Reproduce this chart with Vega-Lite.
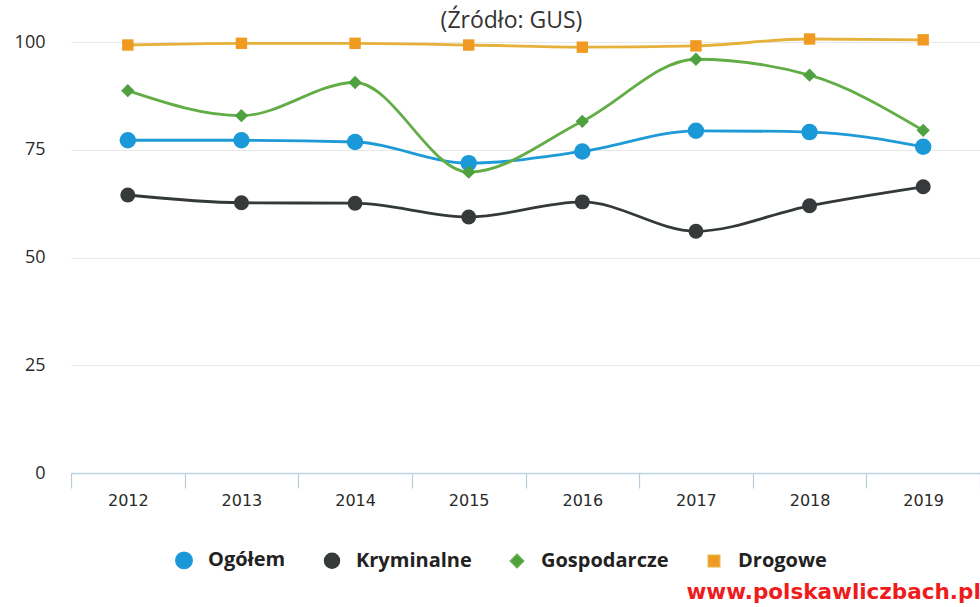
{
  "$schema": "https://vega.github.io/schema/vega-lite/v6.json",
  "width": 909,
  "height": 431,
  "padding": {"left": 14, "top": 10, "right": 0, "bottom": 0},
  "background": "white",
  "title": {
    "text": "(Źródło: GUS)",
    "font": "Open Sans",
    "fontSize": 23,
    "fontWeight": "normal",
    "color": "#333333",
    "anchor": "middle",
    "dx": -14,
    "offset": 0
  },
  "data": {
    "values": [
      {"year": "2012", "series": "Ogółem", "value": 77.2},
      {"year": "2013", "series": "Ogółem", "value": 77.2},
      {"year": "2014", "series": "Ogółem", "value": 76.8},
      {"year": "2015", "series": "Ogółem", "value": 71.9},
      {"year": "2016", "series": "Ogółem", "value": 74.6},
      {"year": "2017", "series": "Ogółem", "value": 79.4},
      {"year": "2018", "series": "Ogółem", "value": 79.1},
      {"year": "2019", "series": "Ogółem", "value": 75.7},
      {"year": "2012", "series": "Kryminalne", "value": 64.5},
      {"year": "2013", "series": "Kryminalne", "value": 62.7},
      {"year": "2014", "series": "Kryminalne", "value": 62.6},
      {"year": "2015", "series": "Kryminalne", "value": 59.4},
      {"year": "2016", "series": "Kryminalne", "value": 62.9},
      {"year": "2017", "series": "Kryminalne", "value": 56.1},
      {"year": "2018", "series": "Kryminalne", "value": 62.0},
      {"year": "2019", "series": "Kryminalne", "value": 66.4},
      {"year": "2012", "series": "Gospodarcze", "value": 88.7},
      {"year": "2013", "series": "Gospodarcze", "value": 82.9},
      {"year": "2014", "series": "Gospodarcze", "value": 90.6},
      {"year": "2015", "series": "Gospodarcze", "value": 69.8},
      {"year": "2016", "series": "Gospodarcze", "value": 81.6},
      {"year": "2017", "series": "Gospodarcze", "value": 96.0},
      {"year": "2018", "series": "Gospodarcze", "value": 92.3},
      {"year": "2019", "series": "Gospodarcze", "value": 79.5},
      {"year": "2012", "series": "Drogowe", "value": 99.3},
      {"year": "2013", "series": "Drogowe", "value": 99.7},
      {"year": "2014", "series": "Drogowe", "value": 99.7},
      {"year": "2015", "series": "Drogowe", "value": 99.3},
      {"year": "2016", "series": "Drogowe", "value": 98.8},
      {"year": "2017", "series": "Drogowe", "value": 99.1},
      {"year": "2018", "series": "Drogowe", "value": 100.7},
      {"year": "2019", "series": "Drogowe", "value": 100.5}
    ]
  },
  "encoding": {
    "x": {
      "field": "year",
      "type": "ordinal",
      "scale": {"type": "band", "paddingInner": 0, "paddingOuter": 0},
      "axis": {
        "title": "www.polskawliczbach.pl",
        "titleColor": "#ee1c1c",
        "titleFont": "DejaVu Sans",
        "titleFontSize": 21.5,
        "titleFontWeight": "bold",
        "titleAnchor": "start",
        "titleAlign": "left",
        "titleBaseline": "alphabetic",
        "titleX": 615,
        "titleY": 125,
        "labelAngle": 0,
        "labelFont": "DejaVu Sans",
        "labelFontSize": 16,
        "labelColor": "#2a2a2a",
        "labelPadding": 4,
        "tickBand": "extent",
        "tickSize": 15,
        "tickColor": "#b8ccd8",
        "tickWidth": 1.2,
        "domainColor": "#bcd3e2",
        "domainWidth": 1.5,
        "grid": false
      }
    },
    "y": {
      "field": "value",
      "type": "quantitative",
      "scale": {"domain": [0, 100], "nice": false, "zero": true},
      "axis": {
        "title": null,
        "values": [0, 25, 50, 75, 100],
        "labelFont": "Open Sans",
        "labelFontSize": 18,
        "labelColor": "#2a2a2a",
        "labelAlign": "right",
        "labelPadding": 26,
        "ticks": false,
        "domain": false,
        "grid": true,
        "gridColor": "#e8e8e8",
        "gridWidth": 1
      }
    }
  },
  "layer": [
    {
      "mark": {"type": "line", "interpolate": "monotone", "strokeWidth": 2.8},
      "encoding": {
        "stroke": {
          "field": "series",
          "type": "nominal",
          "scale": {
            "domain": ["Ogółem", "Kryminalne", "Gospodarcze", "Drogowe"],
            "range": ["#1e9ad6", "#333838", "#62ad46", "#e6b13a"]
          },
          "legend": {
            "title": null,
            "orient": "none",
            "direction": "horizontal",
            "legendX": 103,
            "legendY": 508,
            "labelFont": "Open Sans",
            "labelFontSize": 20,
            "labelFontWeight": "bold",
            "labelColor": "#222222",
            "labelOffset": 14,
            "columnPadding": 35
          }
        },
        "detail": {"field": "series"}
      }
    },
    {
      "mark": {"type": "point", "filled": true, "opacity": 1},
      "encoding": {
        "fill": {
          "field": "series",
          "type": "nominal",
          "scale": {
            "domain": ["Ogółem", "Kryminalne", "Gospodarcze", "Drogowe"],
            "range": ["#1a98d8", "#363a3a", "#4fa040", "#f09a22"]
          },
          "legend": {
            "title": null,
            "orient": "none",
            "direction": "horizontal",
            "legendX": 103,
            "legendY": 508,
            "labelFont": "Open Sans",
            "labelFontSize": 20,
            "labelFontWeight": "bold",
            "labelColor": "#222222",
            "labelOffset": 14,
            "columnPadding": 35
          }
        },
        "shape": {
          "field": "series",
          "type": "nominal",
          "scale": {
            "domain": ["Ogółem", "Kryminalne", "Gospodarcze", "Drogowe"],
            "range": ["circle", "circle", "diamond", "square"]
          }
        },
        "size": {
          "field": "series",
          "type": "nominal",
          "scale": {
            "domain": ["Ogółem", "Kryminalne", "Gospodarcze", "Drogowe"],
            "range": [270, 130, 80, 150]
          }
        }
      }
    }
  ],
  "config": {"view": {"stroke": null}}
}
